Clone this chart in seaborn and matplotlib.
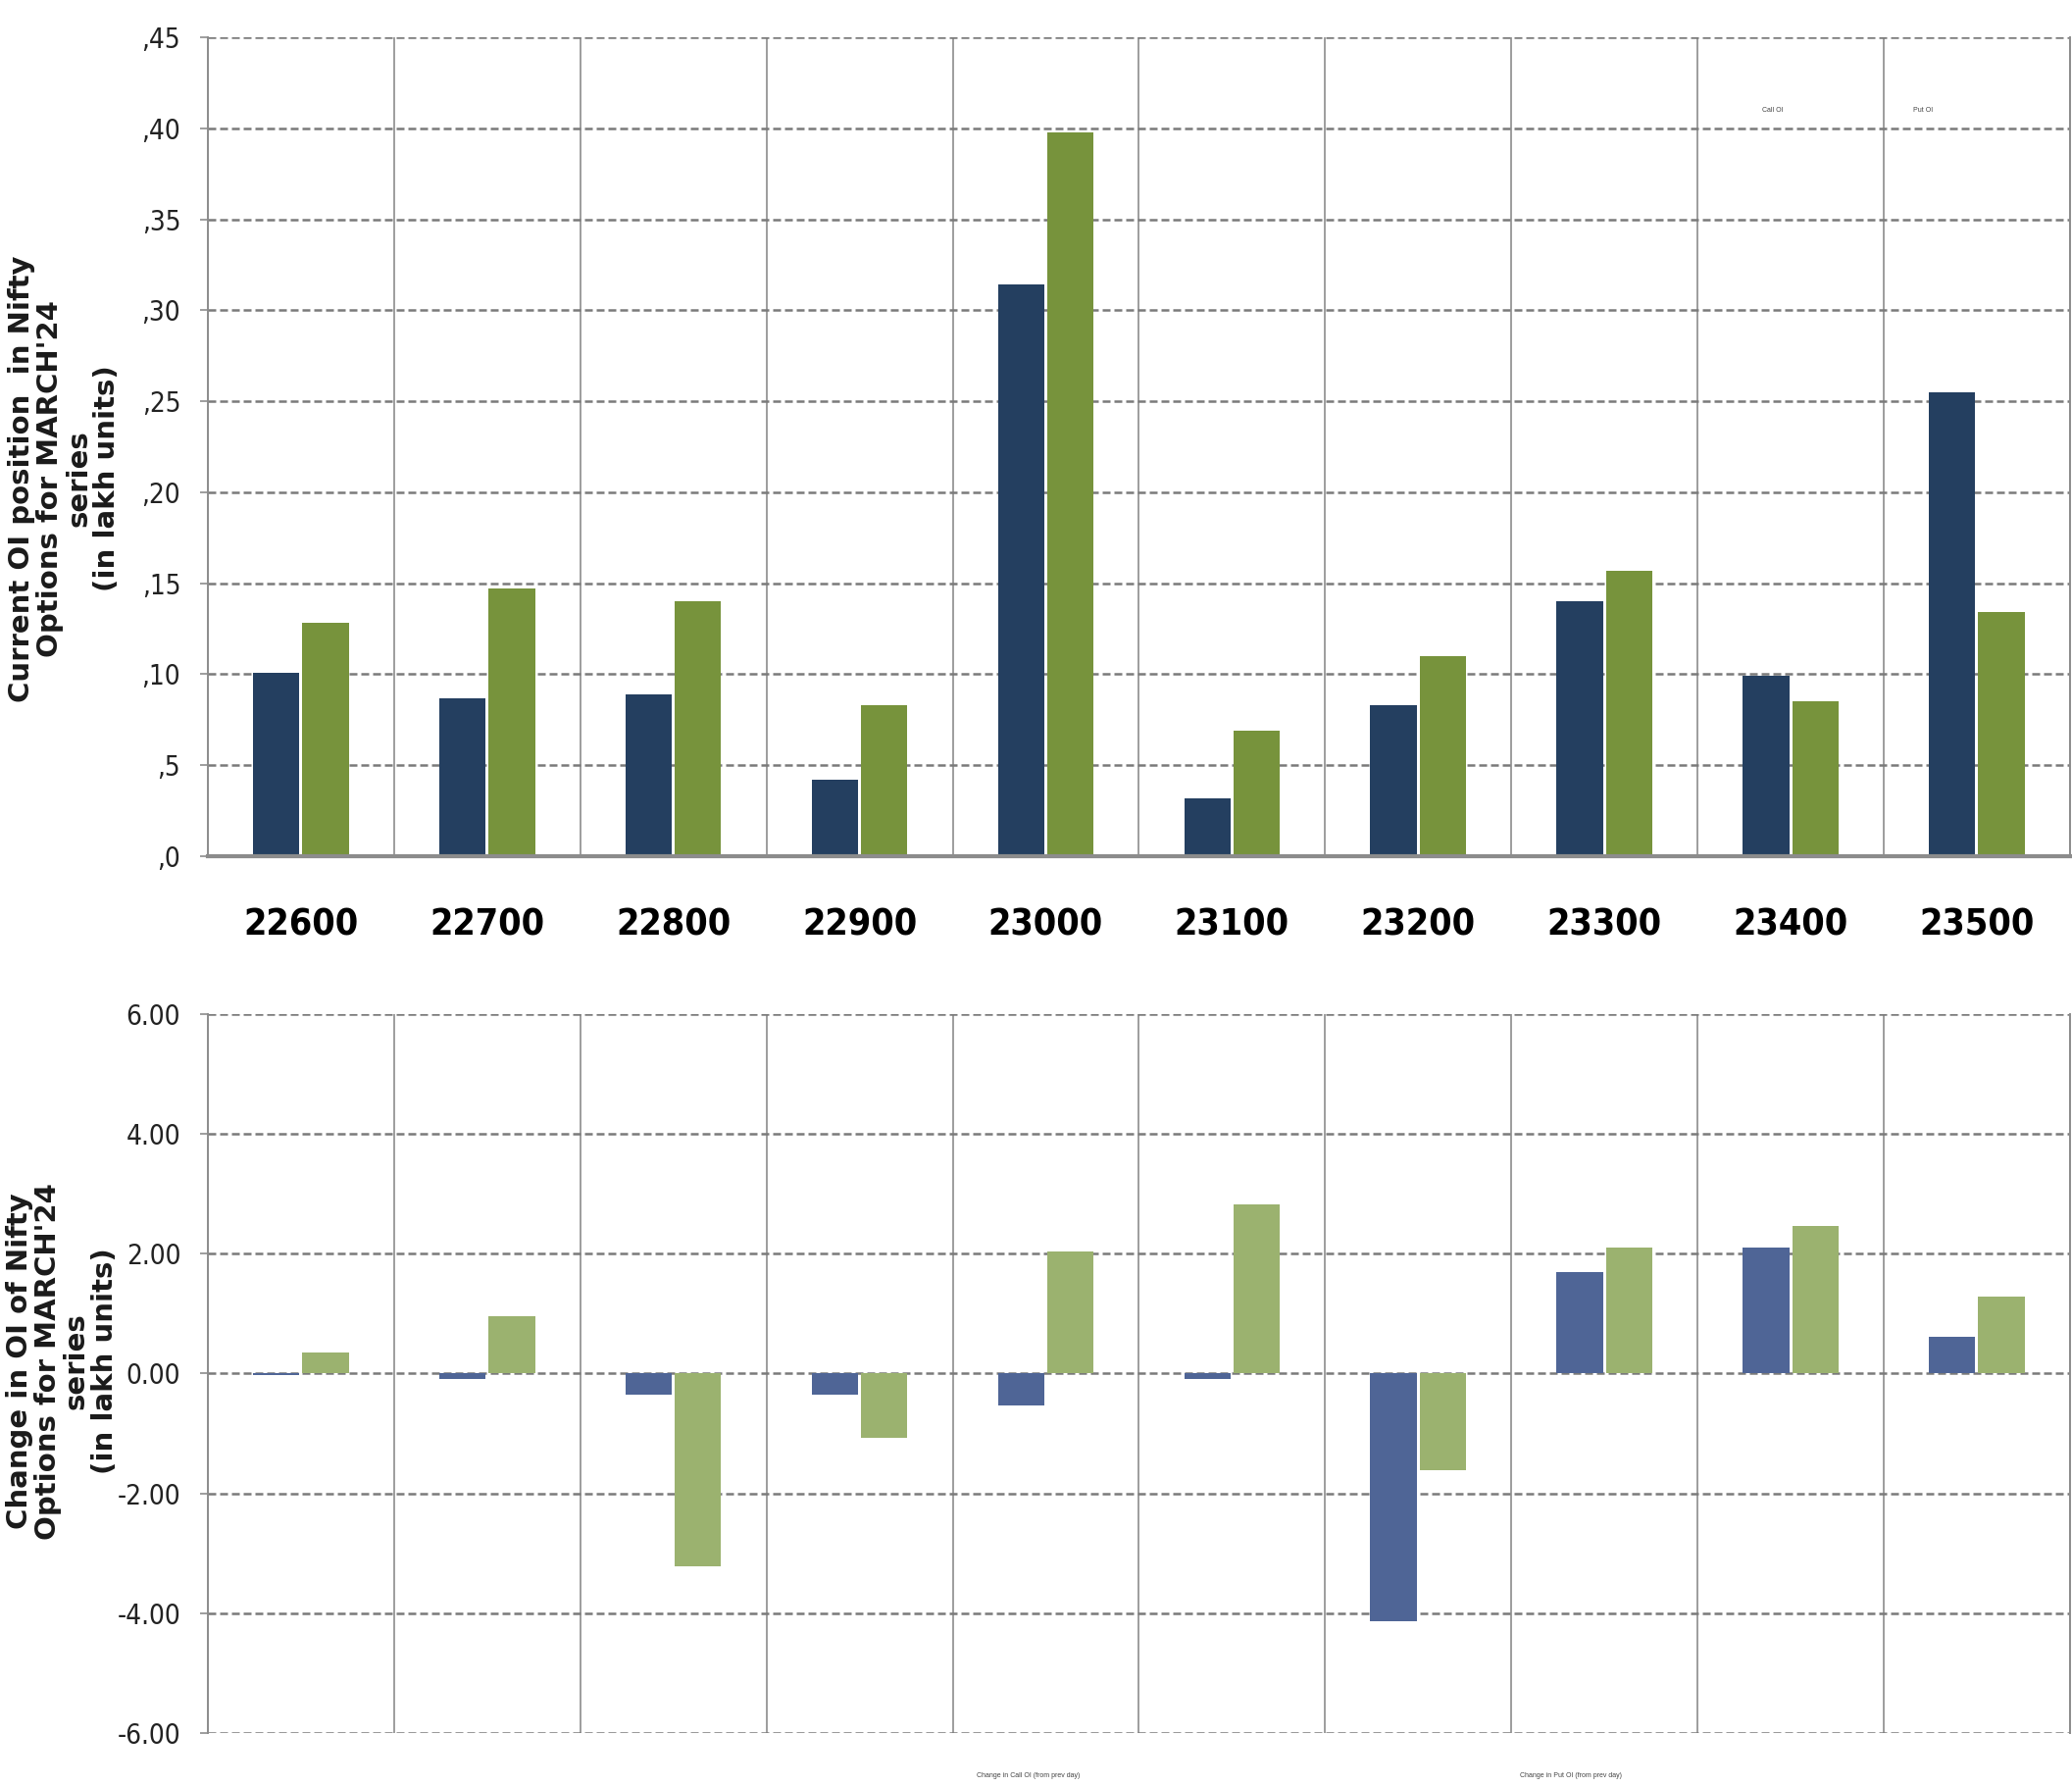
import matplotlib
matplotlib.use("Agg")
import matplotlib.pyplot as plt
import matplotlib.ticker as mticker
from matplotlib import font_manager as fm
import pandas as pd
import seaborn as sns

# ── data ──
STRIKES  = ["22600", "22700", "22800", "22900", "23000",
            "23100", "23200", "23300", "23400", "23500"]
CALL_OI  = [10.1, 8.7, 8.9, 4.2, 31.4, 3.2, 8.3, 14.0, 9.9, 25.5]
PUT_OI   = [12.8, 14.7, 14.0, 8.3, 39.8, 6.9, 11.0, 15.7, 8.5, 13.4]
CALL_CHG = [-0.03, -0.09, -0.35, -0.35, -0.53, -0.09, -4.13, 1.70, 2.10, 0.62]
PUT_CHG  = [0.35, 0.95, -3.22, -1.08, 2.03, 2.82, -1.62, 2.10, 2.47, 1.28]

TOP_TICKS  = [0, 5, 10, 15, 20, 25, 30, 35, 40, 45]
TOP_LABELS = [",0", ",5", ",10", ",15", ",20", ",25", ",30", ",35", ",40", ",45"]
BOT_TICKS  = [-6, -4, -2, 0, 2, 4, 6]
BOT_LABELS = ["-6.00", "-4.00", "-2.00", "0.00", "2.00", "4.00", "6.00"]

NAVY   = "#243F60"
GREEN  = "#77933C"
BLUE2  = "#4F6596"
GREEN2 = "#9BB26F"
GRID   = "#7a7a7a"
LINE   = "#8c8c8c"

sns.set_theme(style="white")
plt.rcParams["font.family"] = ["Liberation Sans", "DejaVu Sans"]

# pick a narrow face if the system has one
_fonts = fm.fontManager.ttflist
_names = {f.name for f in _fonts}
NARROW_PROPS = {"family": ["Liberation Sans", "DejaVu Sans"]}
if "Liberation Sans Narrow" in _names:
    NARROW_PROPS = {"family": ["Liberation Sans Narrow", "Liberation Sans"]}
elif "DejaVu Sans Condensed" in _names:
    NARROW_PROPS = {"family": ["DejaVu Sans Condensed", "DejaVu Sans"]}
elif any(f.name == "DejaVu Sans" and str(f.stretch) in ("condensed", "semi-condensed", "500")
         for f in _fonts):
    NARROW_PROPS = {"family": ["DejaVu Sans"], "fontstretch": "condensed"}
NARROW_FOUND = NARROW_PROPS["family"][0] != "Liberation Sans"

fig = plt.figure(figsize=(21.13, 18.21), dpi=100)
ax1 = fig.add_axes([0.1003, 0.5206, 0.8987, 0.4585])
ax2 = fig.add_axes([0.1003, 0.0297, 0.8987, 0.4025])

top = pd.DataFrame({
    "strike": STRIKES * 2,
    "value": CALL_OI + PUT_OI,
    "series": ["Call OI"] * len(STRIKES) + ["Put OI"] * len(STRIKES),
})
bot = pd.DataFrame({
    "strike": STRIKES * 2,
    "value": CALL_CHG + PUT_CHG,
    "series": ["Change in Call OI"] * len(STRIKES) + ["Change in Put OI"] * len(STRIKES),
})

sns.barplot(data=top, x="strike", y="value", hue="series",
            palette=[NAVY, GREEN], saturation=1, width=0.53, gap=0.06,
            linewidth=0, legend=False, ax=ax1, zorder=3)
sns.barplot(data=bot, x="strike", y="value", hue="series",
            palette=[BLUE2, GREEN2], saturation=1, width=0.53, gap=0.06,
            linewidth=0, legend=False, ax=ax2, zorder=3)

TICK_SIZE = 20 if NARROW_FOUND else 18


def style(ax, ylim, ticks, labels):
    ax.set_xlim(-0.5, len(STRIKES) - 0.5)
    ax.set_ylim(*ylim)
    ax.set_yticks(ticks)
    ax.set_yticklabels(labels, fontsize=TICK_SIZE, color="#222222", **NARROW_PROPS)
    ax.xaxis.set_minor_locator(mticker.FixedLocator(
        [i + 0.5 for i in range(-1, len(STRIKES))]))
    ax.grid(axis="y", which="major", color=GRID,
            linestyle=(0, (3.2, 1.6)), linewidth=1.8)
    ax.grid(axis="x", which="minor", color=LINE, linestyle="-", linewidth=1.2)
    ax.grid(axis="x", which="major", visible=False)
    ax.set_axisbelow(True)
    ax.spines["top"].set_visible(False)
    for side in ("left", "right"):
        ax.spines[side].set_color(LINE)
        ax.spines[side].set_linewidth(1.4)
    ax.tick_params(axis="y", length=6, width=1.2, color=LINE, pad=14, left=True)
    ax.tick_params(axis="x", which="both", length=0)
    ax.set_xlabel("")
    ax.set_ylabel("")


style(ax1, (0, 45), TOP_TICKS, TOP_LABELS)
style(ax2, (-6, 6), BOT_TICKS, BOT_LABELS)

ax1.spines["bottom"].set_color(LINE)
ax1.spines["bottom"].set_linewidth(3)
ax1.spines["bottom"].set_zorder(4)
ax1.set_xticks(range(len(STRIKES)))
ax1.set_xticklabels(STRIKES, fontsize=27 if NARROW_FOUND else 24,
                    fontweight="bold", color="black", **NARROW_PROPS)
ax1.tick_params(axis="x", pad=38)

ax2.spines["bottom"].set_visible(False)
ax2.set_xticklabels([])

# axis titles
fig.text(0.031, 0.732,
         "Current OI position  in Nifty\nOptions for MARCH'24\nseries\n(in lakh units)",
         rotation=90, ha="center", va="center", multialignment="center",
         family="DejaVu Sans", fontsize=21, fontweight="bold",
         linespacing=1.05, color="#1a1a1a")
fig.text(0.030, 0.238,
         "Change in OI of Nifty\nOptions for MARCH'24\nseries\n(in lakh units)",
         rotation=90, ha="center", va="center", multialignment="center",
         family="DejaVu Sans", fontsize=21, fontweight="bold",
         linespacing=1.05, color="#1a1a1a")

# tiny legend-like labels
fig.text(1808 / 2113, 1 - 113 / 1821, "Call OI", fontsize=5,
         ha="center", va="center", color="#444444")
fig.text(1961 / 2113, 1 - 113 / 1821, "Put OI", fontsize=5,
         ha="center", va="center", color="#444444")
fig.text(1049 / 2113, 0.006, "Change in Call OI (from prev day)", fontsize=5,
         ha="center", va="center", color="#444444")
fig.text(1602 / 2113, 0.006, "Change in Put OI (from prev day)", fontsize=5,
         ha="center", va="center", color="#444444")

fig.savefig("out.png", dpi=100, facecolor="white")
